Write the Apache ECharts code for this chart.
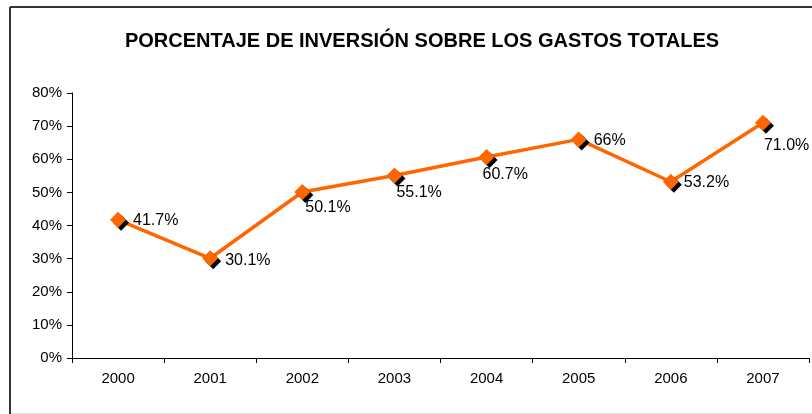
<!DOCTYPE html>
<html>
<head>
<meta charset="utf-8">
<script src="https://cdn.jsdelivr.net/npm/echarts@6/dist/echarts.min.js"></script>
<style>
html,body{margin:0;padding:0;background:#fff;}
#c{width:812px;height:414px;}
</style>
</head>
<body>
<div id="c"></div>
<script>
const titleText = 'PORCENTAJE DE INVERSIÓN SOBRE LOS GASTOS TOTALES';
const categories = ['2000','2001','2002','2003','2004','2005','2006','2007'];
const values = [41.7, 30.1, 50.1, 55.1, 60.7, 66, 53.2, 71.0];
const labelTexts = ['41.7%','30.1%','50.1%','55.1%','60.7%','66%','53.2%','71.0%'];
const yMin = 0, yMax = 80, yStep = 10;

// label placement styling (offsets relative to the 'right' position)
const labelOffsets = [[1,1],[1,2],[-11,16],[-12,17],[-18,18],[1,1],[-1,1],[-13,23]];

const chart = echarts.init(document.getElementById('c'));
const font = 'Liberation Sans, Arial, sans-serif';

const data = values.map((v, i) => ({
  value: v,
  label: { offset: labelOffsets[i], formatter: labelTexts[i] }
}));

chart.setOption({
  backgroundColor: '#fff',
  animation: false,
  title: {
    text: titleText,
    left: 417, top: 26, textAlign: 'center',
    textStyle: { fontFamily: font, fontSize: 20, fontWeight: 'bold', color: '#000' }
  },
  grid: { left: 72, right: 3, top: 93, bottom: 56 },
  xAxis: {
    type: 'category',
    data: categories,
    boundaryGap: true,
    axisLine: { lineStyle: { color: '#000', width: 1 } },
    axisTick: { show: true, length: 5, lineStyle: { color: '#000' } },
    axisLabel: { fontFamily: font, fontSize: 15, color: '#000', margin: 13 }
  },
  yAxis: {
    type: 'value',
    min: yMin, max: yMax, interval: yStep,
    axisLine: { show: true, lineStyle: { color: '#000', width: 1 } },
    axisTick: { show: true, length: 5, lineStyle: { color: '#000' } },
    splitLine: { show: false },
    axisLabel: { fontFamily: font, fontSize: 15, color: '#000', margin: 10, formatter: '{value}%' }
  },
  series: [{
    type: 'line',
    data: data,
    symbol: 'diamond',
    symbolSize: 16,
    lineStyle: { color: '#FF6600', width: 3.5 },
    itemStyle: { color: '#FF6600', shadowColor: '#000', shadowOffsetX: 3, shadowOffsetY: 3, shadowBlur: 0 },
    label: { show: true, position: 'right', distance: 6, fontFamily: font, fontSize: 16, color: '#000' }
  }],
  graphic: [
    { type: 'line', shape: { x1: 10, y1: 7, x2: 812, y2: 7 }, style: { stroke: '#333', lineWidth: 2 } },
    { type: 'line', shape: { x1: 10, y1: 7, x2: 10, y2: 414 }, style: { stroke: '#333', lineWidth: 2 } },
    { type: 'line', shape: { x1: 11, y1: 413.5, x2: 812, y2: 413.5 }, style: { stroke: '#ddd', lineWidth: 1 } }
  ]
});
</script>
</body>
</html>
